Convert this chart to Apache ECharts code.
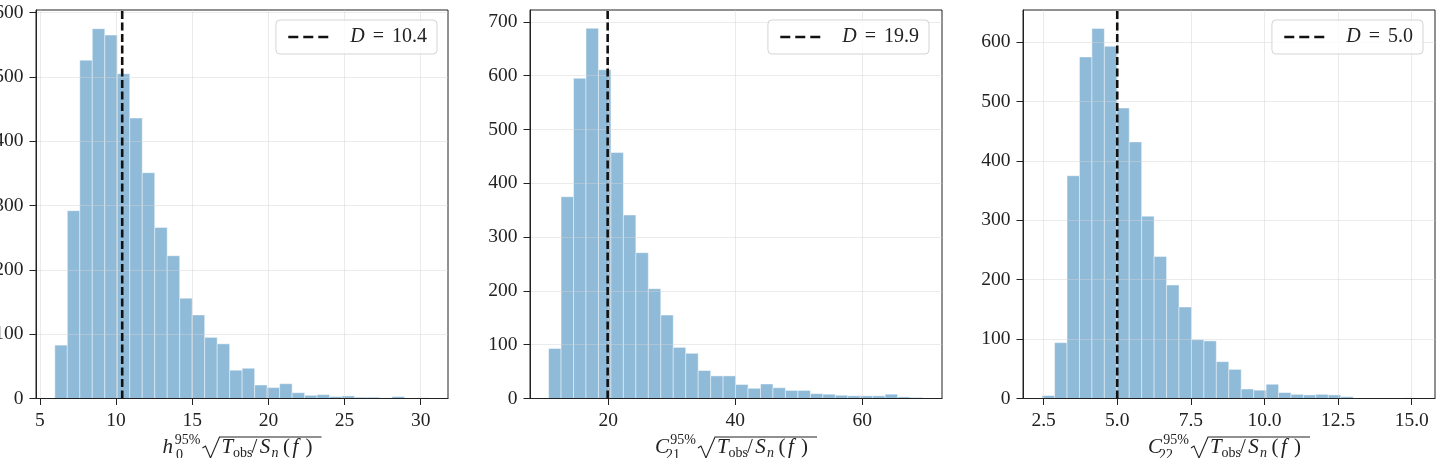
<!DOCTYPE html>
<html><head><meta charset="utf-8">
<script src="https://cdn.jsdelivr.net/npm/echarts@6/dist/echarts.min.js"></script>
<style>html,body{margin:0;padding:0;background:#fff;overflow:hidden}#c{width:1437px;height:458px}</style>
</head><body><div id="c"></div>
<script>
// ---------- data ----------
// Panel 1: h0^95% sqrt(Tobs/Sn)
const h0Counts = [83,292,526,575,565,505,436,351,266,222,156,130,95,85,44,47,21,17,23,9,5,6,3,4,2,2,1,3,0,1];
const h0BinStart = 5.975, h0BinWidth = 0.82;
const h0D = 10.4;
const h0XRange = [4.74, 31.79];
const h0YMax = 604;
const h0XTicks = [5, 10, 15, 20, 25, 30];
const h0YTicks = [0, 100, 200, 300, 400, 500, 600];

// Panel 2: C21^95% sqrt(Tobs/Sn)
const c21Counts = [93,375,595,688,611,457,341,271,204,155,95,84,52,42,42,26,19,27,20,15,15,9,8,6,5,5,5,8,3,2];
const c21BinStart = 10.6, c21BinWidth = 1.963;
const c21D = 19.9;
const c21XRange = [7.67, 72.55];
const c21YMax = 722;
const c21XTicks = [20, 40, 60];
const c21YTicks = [0, 100, 200, 300, 400, 500, 600, 700];

// Panel 3: C22^95% sqrt(Tobs/Sn)
const c22Counts = [5,94,375,575,623,593,489,432,307,239,191,154,99,97,62,49,16,14,24,10,7,6,7,6,3,0,0,0,0,1];
const c22BinStart = 2.45, c22BinWidth = 0.4225;
const c22D = 5.0;
const c22XRange = [1.80, 15.79];
const c22YMax = 654;
const c22XTicks = [2.5, 5.0, 7.5, 10.0, 12.5, 15.0];
const c22YTicks = [0, 100, 200, 300, 400, 500, 600];

// ---------- layout / style ----------
const FONT = '"Liberation Serif", "DejaVu Serif", serif';
const INK = '#222';
const panels = [
  {counts:h0Counts, start:h0BinStart, width:h0BinWidth, D:h0D, xr:h0XRange, ymax:h0YMax, xt:h0XTicks, yt:h0YTicks,
   left:36, dec:0, letter:'h', sub:'0', legRight:1000},
  {counts:c21Counts, start:c21BinStart, width:c21BinWidth, D:c21D, xr:c21XRange, ymax:c21YMax, xt:c21XTicks, yt:c21YTicks,
   left:530, dec:0, letter:'C', sub:'21', legRight:508},
  {counts:c22Counts, start:c22BinStart, width:c22BinWidth, D:c22D, xr:c22XRange, ymax:c22YMax, xt:c22XTicks, yt:c22YTicks,
   left:1023, dec:1, letter:'C', sub:'22', legRight:14}
];
const GW = 412, GTOP = 10, GH = 388.5;

const grid = [], xAxis = [], yAxis = [], series = [], legend = [], graphic = [];

panels.forEach((p, i) => {
  grid.push({left:p.left, top:GTOP, width:GW, height:GH, show:true, borderColor:INK, borderWidth:1,
    backgroundColor:'transparent', containLabel:false, outerBoundsMode:'none'});
  const splitStyle = {color:'rgba(210,210,210,0.45)', width:1};
  xAxis.push({
    type:'value', gridIndex:i, min:p.xr[0], max:p.xr[1], z:3,
    axisLine:{show:true, onZero:false, lineStyle:{color:INK, width:1}},
    axisTick:{show:true, length:6.5, customValues:p.xt, lineStyle:{color:INK, width:1}},
    axisLabel:{customValues:p.xt, margin:12, fontFamily:FONT, fontSize:19.5, color:INK,
      formatter: v => Number(v).toFixed(p.dec)},
    splitLine:{show:true, lineStyle:splitStyle}
  });
  yAxis.push({
    type:'value', gridIndex:i, min:0, max:p.ymax, z:3,
    axisLine:{show:true, onZero:false, lineStyle:{color:INK, width:1}},
    axisTick:{show:true, length:6.5, customValues:p.yt, lineStyle:{color:INK, width:1}},
    axisLabel:{customValues:p.yt, margin:12.5, fontFamily:FONT, fontSize:19.5, color:INK},
    splitLine:{show:true, lineStyle:splitStyle}
  });
  const data = p.counts.map((c, k) => [p.start + k * p.width, p.start + (k + 1) * p.width, c]);
  series.push({
    type:'custom', xAxisIndex:i, yAxisIndex:i, z:2, silent:true,
    encode:{x:[0,1], y:2},
    data,
    renderItem(params, api) {
      const a = api.coord([api.value(0), api.value(2)]);
      const b = api.coord([api.value(1), 0]);
      return {type:'rect', shape:{x:a[0], y:a[1], width:b[0]-a[0], height:b[1]-a[1]},
        style:{fill:'rgba(31,119,180,0.5)', stroke:'rgba(255,255,255,0.45)', lineWidth:1}};
    }
  });
  const name = 'D = ' + p.D.toFixed(1);
  series.push({
    type:'line', name, xAxisIndex:i, yAxisIndex:i, z:5, silent:true,
    symbol:'none', data:[[p.D, 0], [p.D, p.ymax]], color:'#111',
    lineStyle:{color:'#111', width:2.6, type:[8, 3.5]}
  });
  legend.push({
    data:[name], right:p.legRight, top:20, selectedMode:false,
    itemWidth:40, itemHeight:14, padding:[7, 10, 7, 11],
    itemStyle:{opacity:0},
    lineStyle:{color:'#111', width:2.7, type:[10, 5]},
    backgroundColor:'rgba(255,255,255,0.8)', borderColor:'#d4d4d4', borderWidth:1, borderRadius:4,
    formatter: () => '{i|D}{e|=}{n|' + p.D.toFixed(1) + '}',
    textStyle:{fontFamily:FONT, fontSize:20, color:INK,
      rich:{i:{fontFamily:FONT, fontSize:20, fontStyle:'italic', color:INK, padding:[0,0,0,17]},
            e:{fontFamily:FONT, fontSize:20, color:INK, padding:[0,8,0,8]},
            n:{fontFamily:FONT, fontSize:20, color:INK}}}
  });
  // axis title (math text) centred under the plot
  const cx = p.left + GW / 2;
  const extra = p.letter === 'h' ? 0 : 3;
  const x0 = cx - (159 + extra) / 2;
  const base = 454;
  const t = (text, dx, size, italic, dy) => ({
    type:'text', x:x0 + dx, y:base + dy - 0.3 * size, silent:true,
    style:{text, fontFamily:FONT, fontSize:size, fontStyle:italic ? 'italic' : 'normal', fill:INK, verticalAlign:'middle'}
  });
  const e = extra;
  graphic.push(t(p.letter, 0, 21, true, 0));
  graphic.push(t('95%', 12.3 + e, 14, false, -9));
  graphic.push(t(p.sub, (p.letter === 'h' ? 13.5 : 11), 14, false, 6));
  graphic.push({type:'polyline', silent:true,
    shape:{points:[[x0+40+e, base-6],[x0+43+e, base-8],[x0+48+e, base+4],[x0+57+e, base-17],[x0+159+e, base-17]]},
    style:{stroke:INK, lineWidth:1.1, fill:null}});
  graphic.push(t('T', 59 + e, 21, true, 0));
  graphic.push(t('obs', 70.6 + e, 14, false, 4));
  graphic.push(t('/', 89 + e, 21, false, 0));
  graphic.push(t('S', 97.3 + e, 21, true, 0));
  graphic.push(t('n', 109 + e, 14, true, 4));
  graphic.push(t('(', 120.6 + e, 21, false, 0));
  graphic.push(t('f', 130 + e, 21, true, 0));
  graphic.push(t(')', 143 + e, 21, false, 0));
});

const chart = echarts.init(document.getElementById('c'), null, {renderer:'canvas'});
chart.setOption({animation:false, backgroundColor:'#fff', grid, xAxis, yAxis, series, legend, graphic});
</script>
</body></html>
